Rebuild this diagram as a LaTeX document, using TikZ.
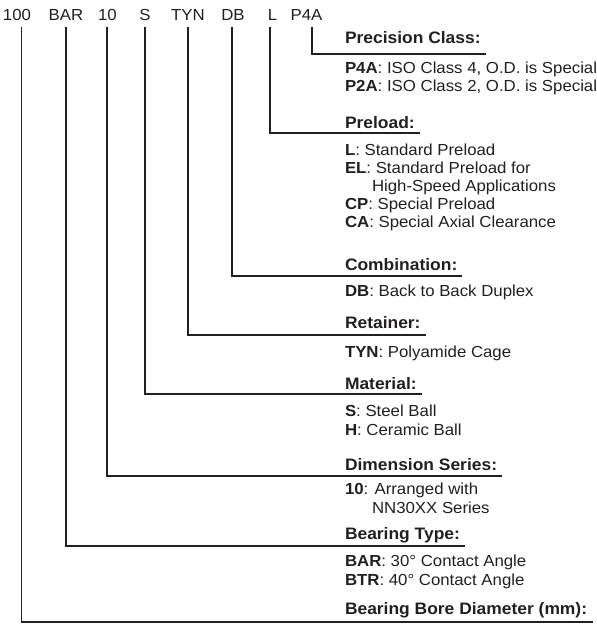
\documentclass[tikz,border=0pt]{standalone}
\usepackage{fontspec}
\setmainfont{Liberation Sans}[FakeStretch=1.05]
\definecolor{ink}{HTML}{231F20}
\begin{document}
\begin{tikzpicture}[x=1pt,y=-1pt,
  every node/.style={inner sep=0pt,outer sep=0pt,text=ink,font=\fontsize{16}{18}\selectfont},
  code/.style={anchor=base},
  head/.style={anchor=base west,font=\fontsize{16.6}{18}\selectfont\bfseries},
  body/.style={anchor=base west},
  conn/.style={draw=ink,line width=1.4pt}]
\useasboundingbox (0,0) rectangle (597,625);

% code row
\node[code] (c100) at (17,20) {100};
\node[code] (cbar) at (66,20) {BAR};
\node[code] (c10)  at (107.5,20) {10};
\node[code] (cs)   at (145,20) {S};
\node[code] (ctyn) at (188,20) {TYN};
\node[code] (cdb)  at (233,20) {DB};
\node[code] (cl)   at (272.5,20) {L};
\node[code] (cp4a) at (306.5,20) {P4A};

% headings
\node[head] (hprec) at (345,43) {Precision Class:};
\node[head] (hpre)  at (345,128) {Preload:};
\node[head] (hcomb) at (345,270) {Combination:};
\node[head] (hret)  at (345,328) {Retainer:};
\node[head] (hmat)  at (345,389) {Material:};
\node[head] (hdim)  at (345,470) {Dimension Series:};
\node[head] (htype) at (345,539) {Bearing Type:};
\node[head] (hbore) at (345,614) {Bearing Bore Diameter (mm):};

% body lines
\node[body] (p4a) at (345,73) {\textbf{P4A}: ISO Class 4, O.D. is Special};
\node[body] (p2a) at (345,91) {\textbf{P2A}: ISO Class 2, O.D. is Special};
\node[body] (bl)  at (345,155) {\textbf{L}: Standard Preload};
\node[body] (bel) at (345,173) {\textbf{EL}: Standard Preload for};
\node[body] (bhs) at (372,191) {High-Speed Applications};
\node[body] (bcp) at (345,209) {\textbf{CP}: Special Preload};
\node[body] (bca) at (345,227) {\textbf{CA}: Special Axial Clearance};
\node[body] (bdb) at (345,296) {\textbf{DB}: Back to Back Duplex};
\node[body] (btyn) at (345,357) {\textbf{TYN}: Polyamide Cage};
\node[body] (bsb) at (345,416) {\textbf{S}: Steel Ball};
\node[body] (bhb) at (345,435) {\textbf{H}: Ceramic Ball};
\node[body] (b10) at (345,494) {\textbf{10}: Arranged with};
\node[body] (bnn) at (372,513) {NN30XX Series};
\node[body] (bbar) at (345,566) {\textbf{BAR}: 30° Contact Angle};
\node[body] (bbtr) at (345,585) {\textbf{BTR}: 40° Contact Angle};

% connectors
\draw[conn] ([xshift=5.5pt,yshift=-7pt]cp4a.base) |- ([xshift=5pt,yshift=-11pt]hprec.base east);
\draw[conn] ([xshift=-2.5pt,yshift=-7pt]cl.base) |- ([xshift=5pt,yshift=-5pt]hpre.base east);
\draw[conn] ([xshift=-1pt,yshift=-7pt]cdb.base) |- ([xshift=5pt,yshift=-6pt]hcomb.base east);
\draw[conn] ([yshift=-7pt]ctyn.base) |- ([xshift=5pt,yshift=-7pt]hret.base east);
\draw[conn] ([yshift=-7pt]cs.base) |- ([xshift=5pt,yshift=-5pt]hmat.base east);
\draw[conn] ([xshift=-0.5pt,yshift=-7pt]c10.base) |- ([xshift=5pt,yshift=-6pt]hdim.base east);
\draw[conn] ([yshift=-7pt]cbar.base) |- ([xshift=5pt,yshift=-7pt]htype.base east);
\draw[conn] ([xshift=4.7pt,yshift=-7pt]c100.base) |- ([xshift=6pt,yshift=-8pt]hbore.base east);
\end{tikzpicture}
\end{document}
